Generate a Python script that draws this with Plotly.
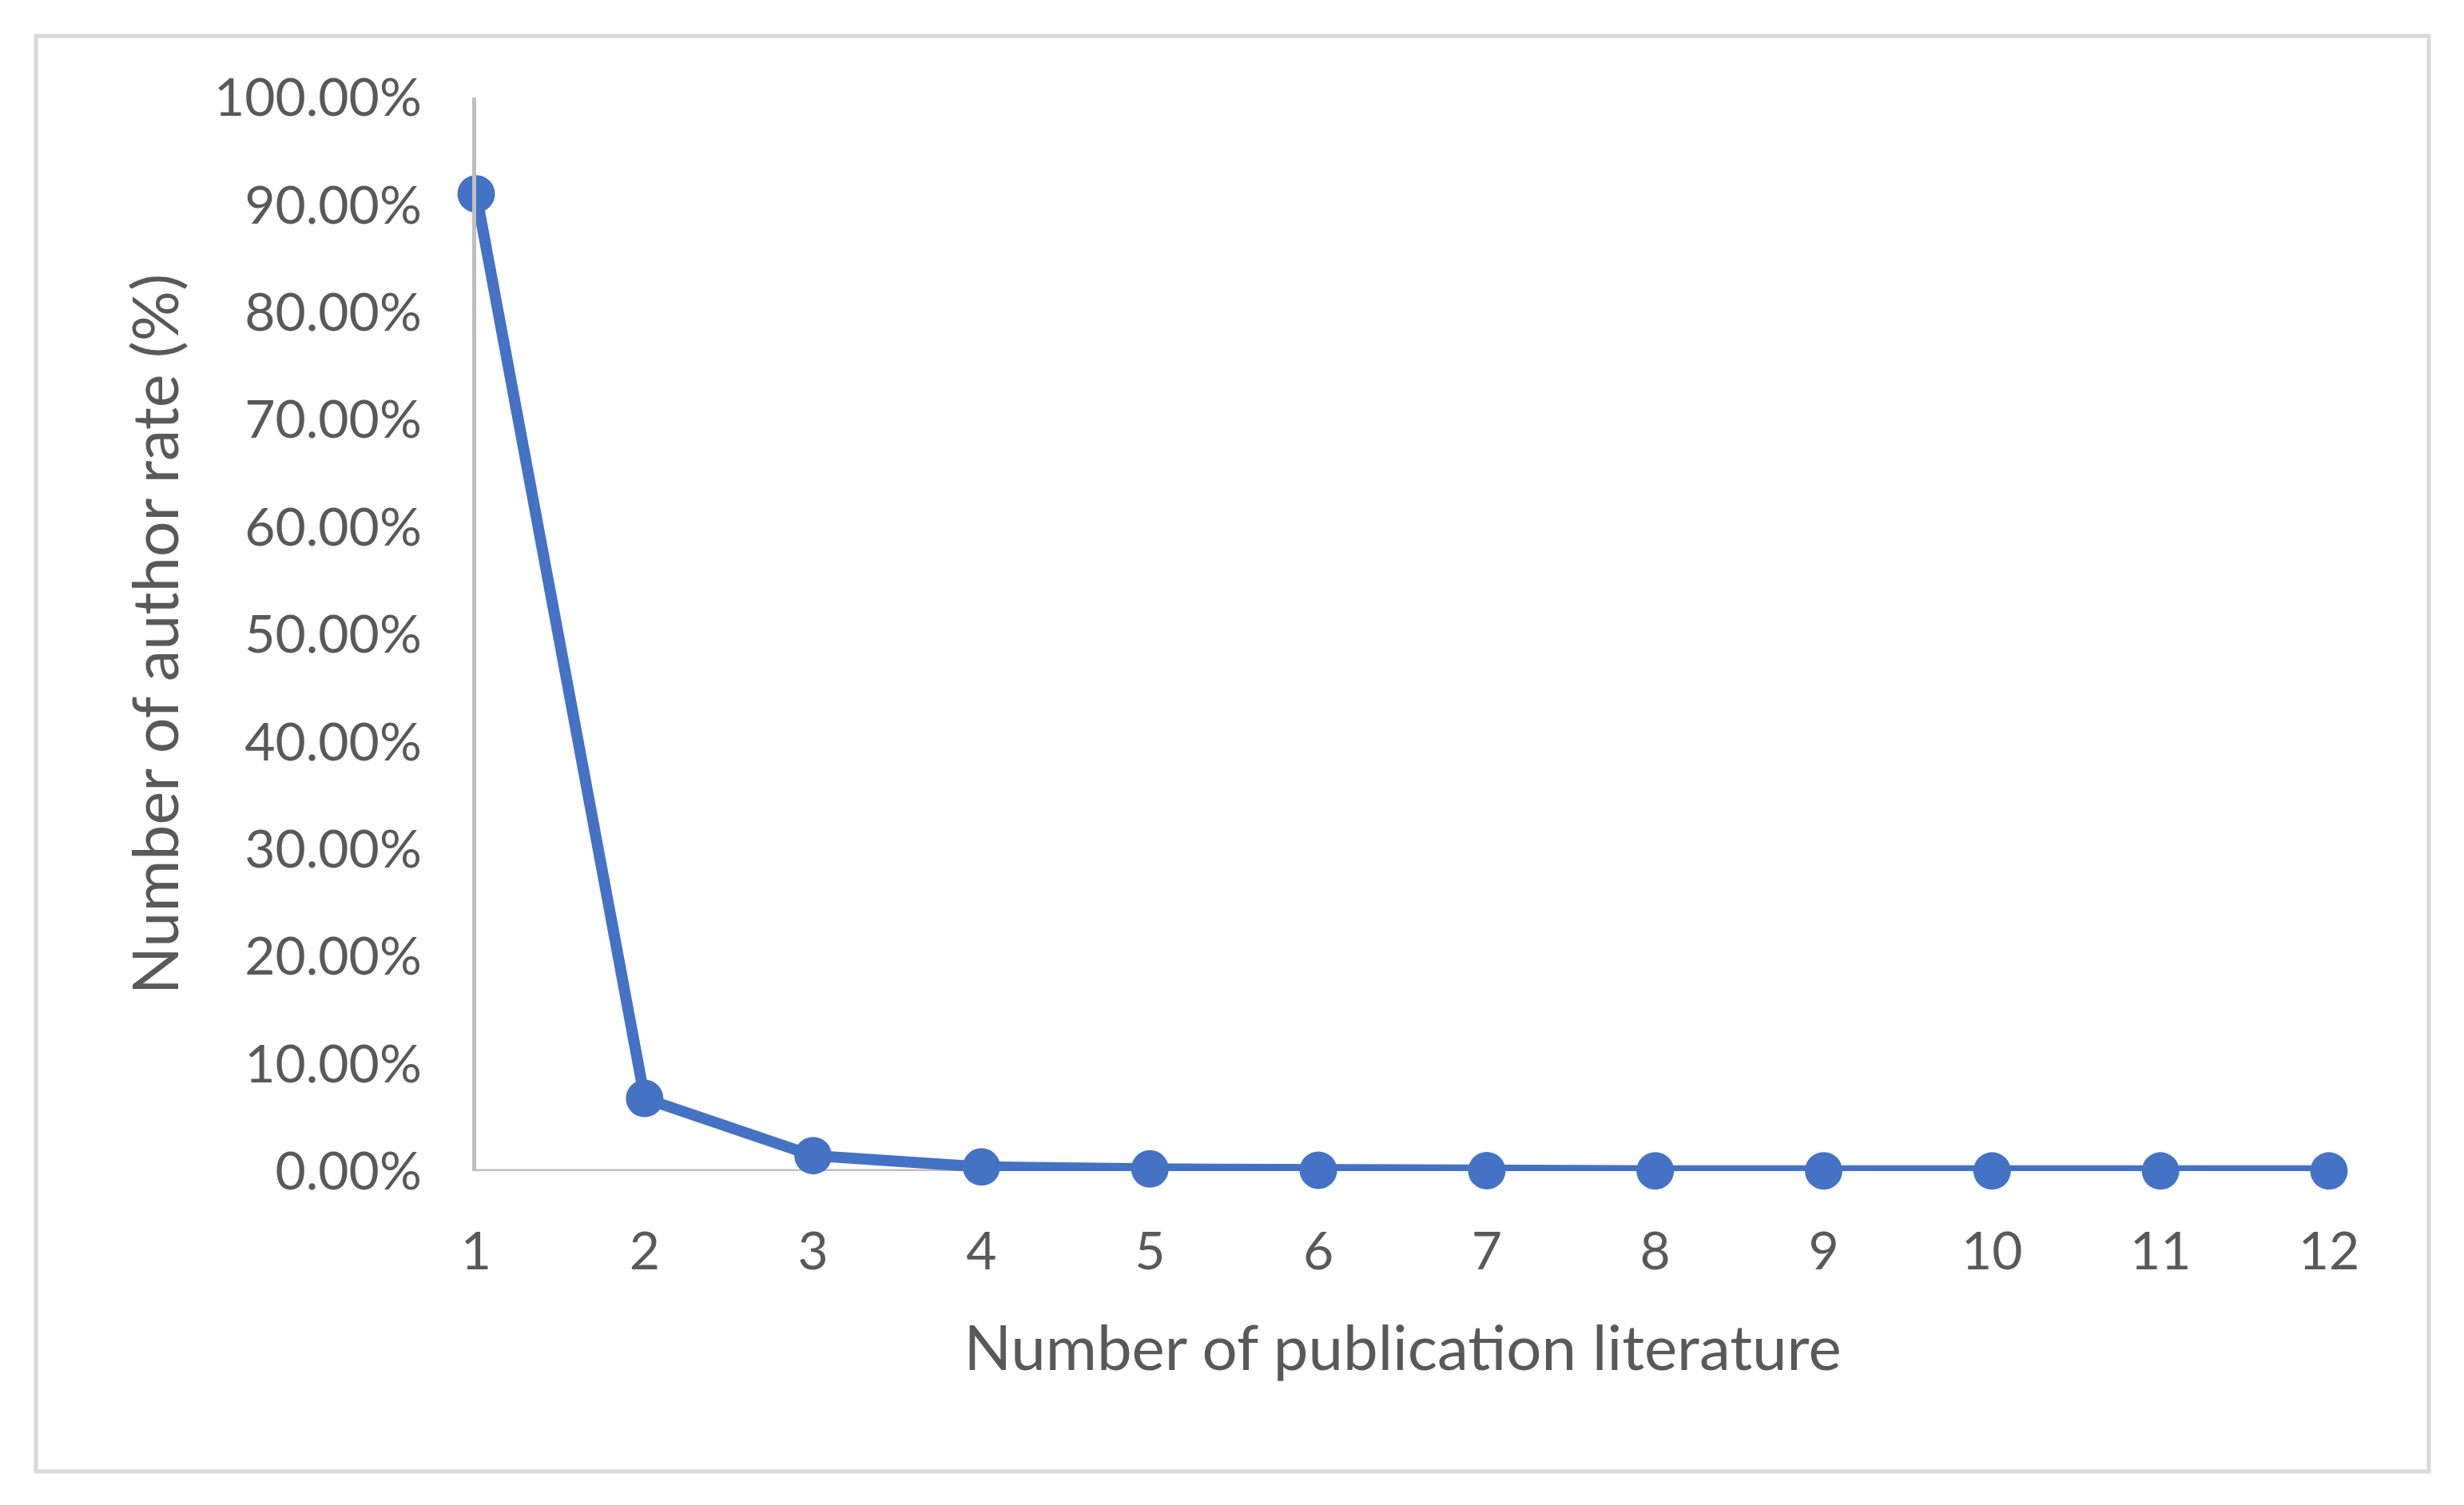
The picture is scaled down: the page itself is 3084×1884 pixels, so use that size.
import plotly.graph_objects as go

categories = [1, 2, 3, 4, 5, 6, 7, 8, 9, 10, 11, 12]
author_rate = [0.9102, 0.0677, 0.0144, 0.0039, 0.0020, 0.0008, 0.0004, 0.0002, 0.0002, 0.0001, 0.0001, 0.0001]
y_ticks = [i / 10 for i in range(11)]

W, H = 3084, 1884
L, R, T, B = 588, 177, 114, 426
pw, ph = W - L - R, H - T - B

font_family = "Lato, 'Open Sans', sans-serif"
txt = "#595959"

fig = go.Figure(go.Scatter(
    x=categories, y=author_rate, mode="lines+markers",
    line=dict(color="#4472C4", width=14),
    marker=dict(color="#4472C4", size=47),
    cliponaxis=False, showlegend=False,
))

fig.update_layout(
    width=W, height=H,
    margin=dict(l=L, r=R, t=T, b=B),
    paper_bgcolor="white", plot_bgcolor="white",
    font=dict(family=font_family, color=txt, size=66),
    xaxis=dict(
        range=[1, 12], tickvals=categories, ticktext=[str(c) for c in categories],
        showgrid=False, zeroline=False, showline=False,
        ticks="", ticklabelstandoff=56,
        tickfont=dict(size=66, color=txt),
        title=dict(text="Number of publication literature", font=dict(size=78, color=txt), standoff=58),
    ),
    yaxis=dict(
        range=[0, 1], tickvals=y_ticks, tickformat=".2%",
        showgrid=False, zeroline=False, showline=True, linecolor="#BFBFBF", linewidth=5,
        ticks="", ticklabelstandoff=50,
        tickfont=dict(size=66, color=txt),
        title=dict(text="Number of author rate (%)", font=dict(size=79, color=txt), standoff=20),
    ),
    shapes=[
        dict(type="line", xref="x", yref="y", x0=1, x1=12, y0=0, y1=0,
             line=dict(color="#BFBFBF", width=5), layer="below"),
        dict(type="rect", xref="paper", yref="paper",
             x0=(37 - L) / pw, x1=(3032 - L) / pw,
             y0=(H - B - 1834) / ph, y1=(H - B - 37) / ph,
             line=dict(color="#D9D9D9", width=5), layer="below"),
    ],
)

fig.write_html("out.html")
